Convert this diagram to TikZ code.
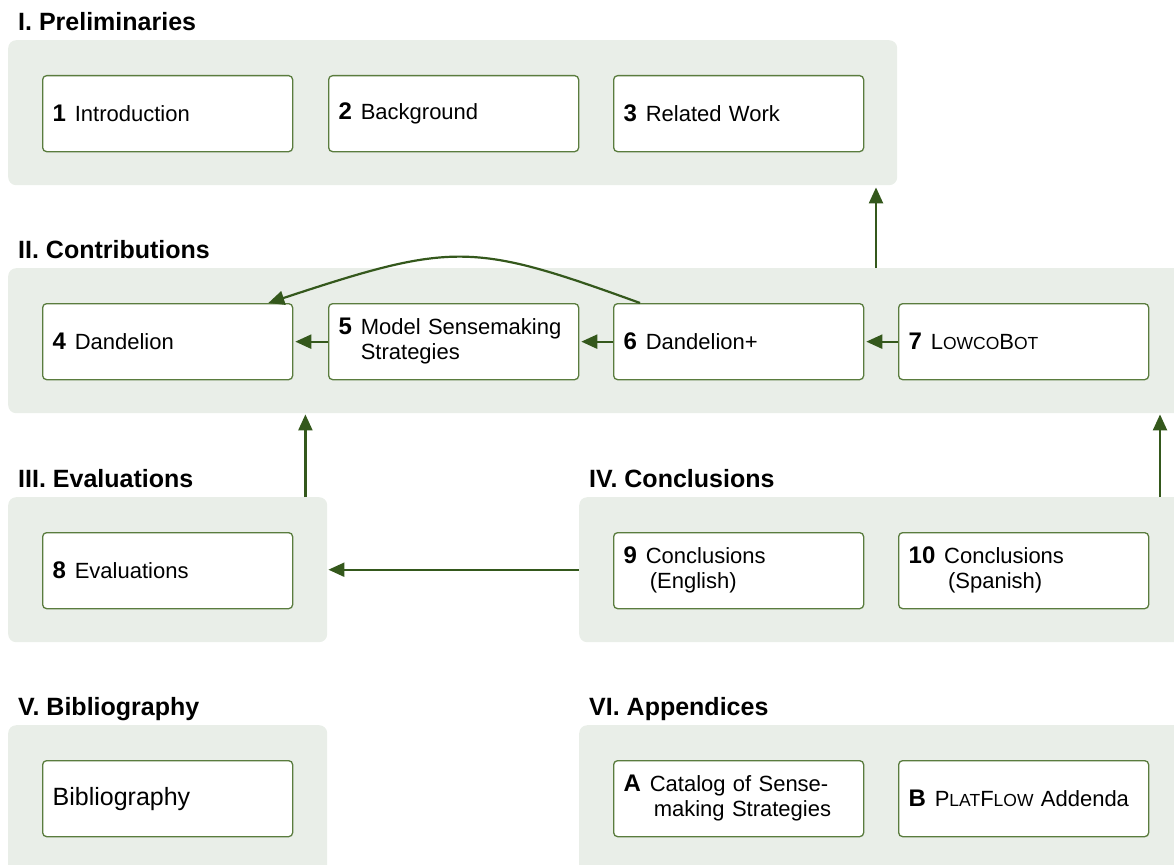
\documentclass[tikz,border=0pt]{standalone}
\usepackage{fontspec}
\setmainfont{Liberation Sans}
\usetikzlibrary{arrows.meta,calc}

\definecolor{panelfill}{RGB}{233,238,232}
\definecolor{boxline}{RGB}{90,124,62}
\definecolor{flow}{RGB}{52,88,28}

% faked small capitals for project names
\newcommand\fsc[1]{{\fontsize{17.5pt}{17.5pt}\selectfont #1}}
% bold chapter number
\newcommand\chnum[1]{{\fontsize{24pt}{25pt}\selectfont\bfseries #1}\hspace{0.4em}}
% chapter label with a hanging second line
\newcommand\twoline[3]{\chnum{#1}\begin{tabular}[t]{@{}l@{}}#2\\#3\end{tabular}}

\begin{document}
\begin{tikzpicture}[x=1pt,y=-1pt,
  panel/.style={fill=panelfill, rounded corners=8pt, anchor=north west, inner sep=0pt},
  chap/.style={draw=boxline, line width=1.3pt, fill=white, rounded corners=4pt,
    anchor=north west, minimum width=250pt, minimum height=76pt,
    text width=230pt, inner xsep=10pt, inner ysep=0pt, align=left,
    font=\fontsize{22pt}{25pt}\selectfont},
  heading/.style={anchor=base west, inner sep=0pt, font=\bfseries\fontsize{25pt}{30pt}\selectfont},
  flowarrow/.style={draw=flow, line width=2.2pt, -{Triangle[length=16pt,width=14pt]}},
]
\useasboundingbox (0,0) rectangle (1174,864);

% part panels
\node[panel, minimum width=889pt,  minimum height=145pt] (pI)   at (8,40)   {};
\node[panel, minimum width=1180pt, minimum height=145pt] (pII)  at (8,268)  {};
\node[panel, minimum width=319pt,  minimum height=145pt] (pIII) at (8,497)  {};
\node[panel, minimum width=610pt,  minimum height=145pt] (pIV)  at (579,497) {};
\node[panel, minimum width=319pt,  minimum height=150pt] (pV)   at (8,725)  {};
\node[panel, minimum width=610pt,  minimum height=150pt] (pVI)  at (579,725) {};

% part headings
\node[heading] (hI)   at (18,31)  {I. Preliminaries};
\node[heading] (hII)  at (18,258) {II. Contributions};
\node[heading] (hIII) at (18,487) {III. Evaluations};
\node[heading] (hIV)  at (589,487) {IV. Conclusions};
\node[heading] (hV)   at (18,715) {V. Bibliography};
\node[heading] (hVI)  at (589,715) {VI. Appendices};

% chapters
\node[chap] (c1) at (42,75)  {\chnum{1}Introduction};
\node[chap] (c2) at (328,75) {\chnum{2}Background};
\node[chap] (c3) at (613,75) {\chnum{3}Related Work};

\node[chap] (c4) at (42,303)  {\chnum{4}Dandelion};
\node[chap] (c5) at (328,303) {\twoline{5}{Model Sensemaking}{Strategies}};
\node[chap] (c6) at (613,303) {\chnum{6}Dandelion+};
\node[chap] (c7) at (898,303) {\chnum{7}L\fsc{OWCO}B\fsc{OT}};

\node[chap] (c8)  at (42,532)  {\chnum{8}Evaluations};
\node[chap] (c9)  at (613,532) {\twoline{9}{Conclusions}{\hspace{4pt}(English)}};
\node[chap] (c10) at (898,532) {\twoline{10}{Conclusions}{\hspace{4pt}(Spanish)}};

\node[chap, font=\fontsize{25pt}{30pt}\selectfont] (bib) at (42,760) {Bibliography};
\node[chap] (cA) at (613,760) {\twoline{A}{Catalog of Sense-}{\hspace{4pt}making Strategies}};
\node[chap] (cB) at (898,760) {\chnum{B}P\fsc{LAT}F\fsc{LOW} Addenda};

% dependencies between chapters
\draw[flowarrow, shorten >=2pt] (c5.west) -- (c4.east);
\draw[flowarrow, shorten >=2pt] (c6.west) -- (c5.east);
\draw[flowarrow, shorten >=2pt] (c7.west) -- (c6.east);
\draw[flowarrow] ($(c6.north west)+(27,0)$) .. controls +(-168,-61) and +(185,-61) .. ($(c4.north east)+(-25,0)$);

% dependencies between parts
\coordinate (aII) at ($(pII.north west)+(868,0)$);
\draw[flowarrow, shorten >=2pt] (aII) -- (aII |- pI.south);
\coordinate (aIII) at ($(pIII.north east)+(-22,0)$);
\draw[flowarrow, shorten >=1pt] (aIII) -- (aIII |- pII.south);
\coordinate (aIV) at ($(pIV.north west)+(581,0)$);
\draw[flowarrow, shorten >=1pt] (aIV) -- (aIV |- pII.south);
\draw[flowarrow, shorten >=1pt] (pIV.west) -- (pIV.west -| pIII.east);
\end{tikzpicture}
\end{document}
